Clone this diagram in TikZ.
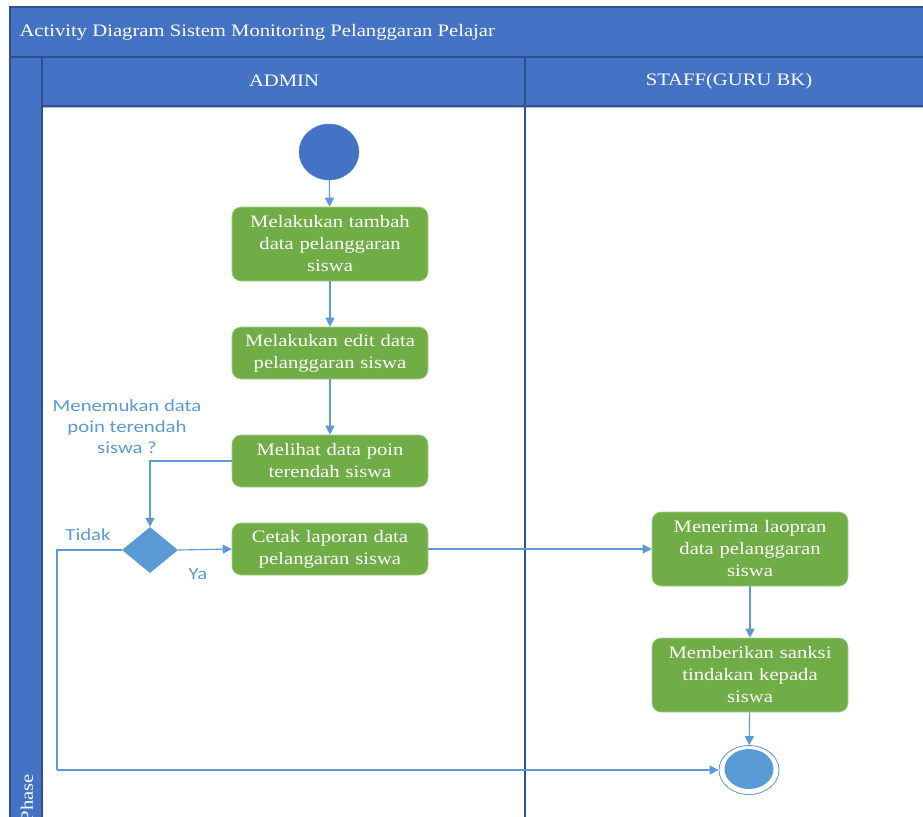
\documentclass[tikz,border=0pt]{standalone}
\usepackage{fontspec}
\setmainfont{Liberation Serif}[FakeStretch=1.18]
\newfontfamily\lblfont{Carlito}[FakeStretch=1.22]
\usetikzlibrary{arrows.meta,shapes.geometric}
\definecolor{laneblue}{HTML}{4472C4}
\definecolor{laneedge}{HTML}{2F528F}
\definecolor{actgreen}{HTML}{70AD47}
\definecolor{flowblue}{HTML}{5B9BD5}
\tikzset{
  band/.style={fill=laneblue, draw=laneedge, line width=1.3pt},
  hdrtext/.style={text=white, font=\fontsize{17.5}{20}\selectfont},
  activity/.style={fill=actgreen, draw=actgreen!60!white, line width=0.6pt,
    rounded corners=9pt, minimum width=196pt, text width=194pt, align=center,
    text=white, inner sep=0pt, font=\fontsize{17.5}{22}\selectfont},
  flow/.style={draw=flowblue, line width=1.1pt, -{Triangle[length=9pt,width=9pt]}},
  plainflow/.style={draw=flowblue, line width=1.1pt},
  guard/.style={text=flowblue, font=\lblfont\fontsize{17}{21}\selectfont, align=center},
}
\begin{document}
\begin{tikzpicture}[x=1pt,y=-1pt]
\useasboundingbox (0,0) rectangle (923,816);
% swimlane frame
\fill[white] (0,0) rectangle (923,816);
\draw[band] (10,7) rectangle (935,57);
\draw[band] (10,57) rectangle (42,840);
\draw[band] (42,57) rectangle (525,106);
\draw[band] (525,57) rectangle (935,106);
\draw[draw=flowblue!60, line width=0.8pt] (42,107) -- (935,107);
\draw[draw=laneedge, line width=1.3pt] (42,106) -- (42,840);
\draw[draw=laneedge, line width=1.6pt] (525,106) -- (525,840);
\node[hdrtext, anchor=west] (title) at (16,32) {Activity Diagram Sistem Monitoring Pelanggaran Pelajar};
\node[hdrtext] (admin) at (284,81) {ADMIN};
\node[hdrtext] (staff) at (729,81) {STAFF(GURU BK)};
\node[hdrtext, rotate=90] (phase) at (27,798) {Phase};
% activities
\node[ellipse, fill=laneblue, draw=laneblue!80!white, minimum width=60pt, minimum height=56pt, inner sep=0pt] (start) at (329,152) {};
\node[activity, minimum height=74pt] (tambah) at (330,244) {Melakukan tambah\\data pelanggaran\\siswa};
\node[activity, minimum height=52pt] (edit) at (330,353) {Melakukan edit data\\pelanggaran siswa};
\node[activity, minimum height=52pt] (lihat) at (330,461) {Melihat data poin\\terendah siswa};
\node[diamond, fill=flowblue, minimum width=56pt, minimum height=46pt, inner sep=0pt] (cek) at (150,550) {};
\node[activity, minimum height=52pt] (cetak) at (330,549) {Cetak laporan data\\pelangaran siswa};
\node[activity, minimum height=74pt] (terima) at (750,549) {Menerima laopran\\data pelanggaran\\siswa};
\node[activity, minimum height=74pt] (sanksi) at (750,675) {Memberikan sanksi\\tindakan kepada\\siswa};
\node[ellipse, draw=flowblue, fill=white, line width=0.8pt, minimum width=60pt, minimum height=49pt, inner sep=0pt] (finish) at (749,770) {};
\node[ellipse, fill=flowblue, minimum width=49pt, minimum height=40pt, inner sep=0pt] (finishdot) at (749,769) {};
% guards
\node[guard] (tanya) at (127,427) {Menemukan data\\poin terendah\\siswa ?};
\node[guard] (tidak) at (88,535) {Tidak};
\node[guard] (ya) at (198,574) {Ya};
% connectors
\coordinate (loop) at (57,770);
\draw[flow] (start) -- (tambah);
\draw[flow] (tambah) -- (edit);
\draw[flow] (edit) -- (lihat);
\draw[flow] (lihat.west) -| (cek.north);
\draw[flow] (cek.east) -- (cetak.west);
\draw[flow] (cetak.east) -- (terima.west);
\draw[flow] (terima) -- (sanksi);
\draw[flow] (sanksi) -- (finish);
\draw[plainflow] (cek.west) -| (loop);
\draw[flow] (loop) -- (finish.west);
\end{tikzpicture}
\end{document}
